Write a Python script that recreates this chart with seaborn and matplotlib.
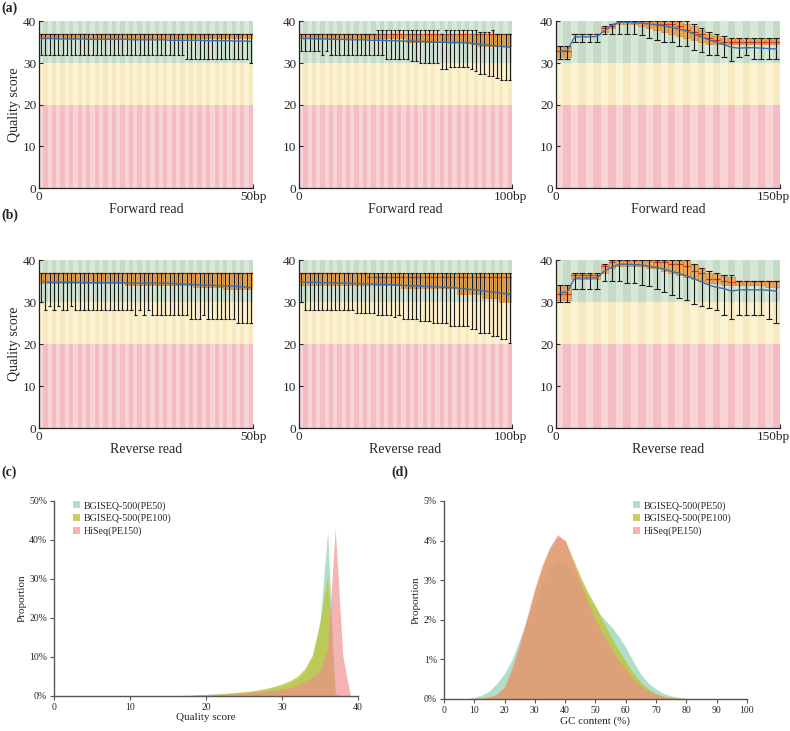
import numpy as np
import matplotlib
matplotlib.use('Agg')
import matplotlib.pyplot as plt
from matplotlib.patches import Patch
from matplotlib.transforms import ScaledTranslation
import seaborn as sns

# ---- per-position quality summaries ----
# (a) forward reads
a1_low = [32, 32, 32, 32, 32, 32, 32, 32, 32, 32,
          32, 32, 32, 32, 32, 32, 32, 32, 32, 32,
          32, 32, 32, 32, 32, 32, 32, 32, 32, 32,
          32, 32, 32, 32, 31, 31, 31, 31, 31, 31,
          31, 31, 31, 31, 31, 31, 31, 31, 31, 30]
a1_q1 = [36, 36, 36, 36, 36, 36, 36, 36, 36, 36,
         36, 36, 36, 36, 36, 36, 36, 36, 36, 36,
         36, 36, 36, 36, 36, 36, 36, 36, 36, 36,
         36, 36, 36, 36, 36, 36, 36, 36, 36, 36,
         36, 36, 36, 36, 36, 36, 36, 36, 36, 36]
a1_med = [37, 37, 37, 37, 37, 37, 37, 37, 37, 37,
          37, 37, 37, 37, 37, 37, 37, 37, 37, 37,
          37, 37, 37, 37, 37, 37, 37, 37, 37, 37,
          37, 37, 37, 37, 37, 37, 37, 37, 37, 37,
          37, 37, 37, 37, 37, 37, 37, 37, 37, 37]
a1_q3 = a1_med
a1_high = a1_med
a1_mean = [35.9, 35.9, 35.9, 35.9, 35.8, 35.8, 35.8, 35.8, 35.8, 35.8,
           35.8, 35.7, 35.7, 35.7, 35.7, 35.7, 35.7, 35.7, 35.7, 35.7,
           35.7, 35.6, 35.6, 35.6, 35.6, 35.6, 35.6, 35.6, 35.6, 35.6,
           35.5, 35.5, 35.5, 35.5, 35.5, 35.5, 35.5, 35.5, 35.4, 35.4,
           35.4, 35.4, 35.4, 35.4, 35.4, 35.3, 35.3, 35.3, 35.3, 35.2]

a2_low = [33, 33, 33, 33, 33, 32, 33, 32, 32, 32,
          32, 32, 32, 32, 32, 32, 32, 32, 32, 32,
          31, 31, 31, 31, 31, 31, 30.5, 30.5, 30, 30,
          30, 30, 30, 28.5, 28.5, 29, 29, 29, 29, 29,
          28.5, 28, 27.5, 27.5, 27, 27, 26.5, 26, 26, 26]
a2_q1 = [36, 36, 36, 36, 36, 36, 36, 36, 36, 36,
         36, 36, 36, 36, 36, 36, 36, 36, 36, 36,
         36, 36, 36, 36, 36, 35, 35, 35, 35, 35,
         35, 35, 35, 35, 35, 35, 35, 35, 35, 35,
         34.5, 34.5, 34, 34, 34, 34, 34, 34, 34, 34]
a2_med = a1_med
a2_q3 = a1_med
a2_high = [37, 37, 37, 37, 37, 37, 37, 37, 37, 37,
           37, 37, 37, 37, 37, 37, 37, 37, 38, 38,
           38, 38, 38, 38, 38, 38, 38, 38, 38, 38,
           38, 38, 38, 37, 38, 38, 38, 38, 38, 38,
           38, 38, 37.5, 37.5, 37.5, 38, 37, 37, 37, 37]
a2_mean = [35.9, 35.9, 35.9, 35.8, 35.8, 35.8, 35.8, 35.7, 35.7, 35.7,
           35.7, 35.6, 35.6, 35.6, 35.6, 35.6, 35.5, 35.5, 35.5, 35.5,
           35.4, 35.4, 35.4, 35.3, 35.3, 35.3, 35.3, 35.2, 35.2, 35.2,
           35.1, 35.1, 35.0, 35.0, 35.0, 34.9, 34.9, 34.9, 34.9, 34.8,
           34.8, 34.6, 34.5, 34.4, 34.3, 34.2, 34.1, 34.0, 33.9, 33.8]

a3_low = [31, 31, 35, 35, 35, 35, 37, 37, 37, 37,
          37, 36.8, 36, 35.5, 35, 35, 34.2, 34, 33.2, 32.6,
          32, 32, 31.4, 30.5, 31.5, 32, 31, 31, 31, 31]
a3_q1 = [31.5, 31.5, 37, 37, 37, 37, 37.5, 38.5, 39.5, 39.5,
         39.5, 39, 38.5, 38, 37.5, 37, 36.5, 36, 35.5, 35,
         34.5, 34.5, 34.5, 34.5, 34.5, 34.5, 34.5, 34.5, 34.5, 34.5]
a3_med = [33, 33, 37, 37, 37, 37, 38.5, 39, 40, 40,
          40, 40, 40, 39.5, 39.5, 39.5, 39, 38, 37.5, 37,
          36, 35.5, 35, 35, 35, 35, 35, 35, 35, 35]
a3_q3 = [34, 34, 37, 37, 37, 37, 39, 39.5, 40, 40,
         40, 40, 40, 40, 40, 40, 40, 39.5, 39, 38,
         37, 36.5, 36, 36, 36, 36, 36, 36, 36, 36]
a3_high = [34, 34, 37, 37, 37, 37, 39, 39.5, 40, 40,
           40, 40, 40, 40, 40, 40, 40, 40, 39.5, 38.5,
           37.5, 37, 36.5, 36, 36, 36, 36, 36, 36, 36]
a3_mean = [32.8, 33.0, 36.3, 36.3, 36.3, 36.4, 37.8, 39.2, 39.8, 39.8,
           39.7, 39.6, 39.4, 39.2, 38.9, 38.6, 38.2, 37.7, 37.0, 36.3,
           35.6, 35.0, 34.4, 33.8, 33.6, 33.7, 33.7, 33.6, 33.5, 33.4]

# (b) reverse reads
b1_low = [30, 28, 29, 28, 29, 28, 28, 29, 28, 28,
          28, 28, 28, 28, 28, 28, 28, 28, 28, 28,
          28, 28, 27, 28, 27, 28, 27, 27, 27, 27,
          27, 27, 27, 27, 27, 26, 26, 26, 27, 26,
          26, 26, 26, 26, 26, 26, 25, 25, 25, 25]
b1_q1 = [34.5, 34.5, 34.5, 34.5, 34.5, 34.5, 34.5, 34.5, 34.5, 34.5,
         34.5, 34.5, 34.5, 34.5, 34.5, 34.5, 34.5, 34.5, 34.5, 34.5,
         34, 34, 34, 34, 34, 34, 34, 34, 34, 34,
         34, 34, 34, 34, 34, 34, 33.5, 33.5, 33.5, 33.5,
         33.5, 33.5, 33.5, 33, 33, 33, 33, 33, 33, 33]
b1_med = a1_med
b1_q3 = a1_med
b1_high = a1_med
b1_mean = [35.0, 34.8, 34.7, 34.7, 34.7, 34.7, 34.7, 34.7, 34.7, 34.7,
           34.6, 34.6, 34.6, 34.6, 34.6, 34.6, 34.6, 34.6, 34.6, 34.6,
           34.5, 34.5, 34.5, 34.5, 34.5, 34.5, 34.5, 34.5, 34.5, 34.5,
           34.4, 34.4, 34.3, 34.3, 34.2, 34.2, 34.1, 34.1, 34.0, 34.0,
           34.0, 33.9, 33.9, 33.9, 33.8, 33.8, 33.7, 33.6, 33.5, 33.4]

b2_low = [30, 28, 28, 28, 28, 28, 28, 28, 28, 28,
          28, 28, 28, 27.5, 27.5, 27.5, 27.5, 27.5, 27, 27,
          27, 27, 26.5, 27, 26, 26, 26, 26, 25.5, 25.5,
          25.5, 25, 25, 25, 25, 24.3, 24.3, 24.3, 24.3, 24.3,
          23.5, 23.5, 22.7, 22.7, 22.7, 22, 22, 21.2, 21.2, 20.2]
b2_q1 = [34, 34, 34, 34, 34, 34, 34, 34, 34, 34,
         34, 34, 34, 34, 34, 34, 34, 34, 34, 34,
         34, 34, 34, 34, 33.3, 33.3, 33.3, 33.3, 33.3, 33.3,
         33.3, 33.3, 33.3, 33.3, 33.3, 33.3, 33.3, 32, 32, 32,
         32, 32, 32, 31, 31, 31, 31, 30, 30, 30]
b2_med = [37, 37, 37, 37, 37, 37, 37, 37, 37, 37,
          37, 37, 37, 37, 37, 37, 36, 36, 36, 36,
          36, 36, 36, 36, 36, 36, 36, 36, 36, 36,
          36, 36, 36, 36, 36, 36, 36, 36, 36, 36,
          36, 36, 36, 36, 36, 36, 36, 36, 36, 36]
b2_q3 = a1_med
b2_high = a1_med
b2_mean = [34.8, 34.7, 34.7, 34.7, 34.6, 34.6, 34.6, 34.6, 34.5, 34.5,
           34.5, 34.5, 34.4, 34.4, 34.4, 34.3, 34.3, 34.3, 34.2, 34.2,
           34.2, 34.1, 34.1, 34.0, 34.0, 33.9, 33.9, 33.8, 33.8, 33.7,
           33.7, 33.6, 33.6, 33.5, 33.5, 33.4, 33.4, 33.3, 33.2, 33.1,
           33.0, 32.9, 32.8, 32.6, 32.5, 32.4, 32.3, 32.1, 32.0, 31.8]

b3_low = [30, 30, 33, 33, 33, 33, 35, 35, 35, 34.5,
          34.5, 34, 33.8, 33, 32.5, 31.6, 31, 30.5, 29.5, 29,
          28.5, 28, 27, 26, 27, 27, 27, 27, 26, 25]
b3_q1 = [30.5, 30.5, 35.5, 35.5, 35.5, 35.5, 37, 38, 38.5, 38.5,
         38.5, 38.5, 38, 38, 37.5, 37, 36.5, 36, 35.5, 35,
         34.5, 34.5, 34, 34, 34, 34, 34, 34, 33.5, 33.5]
b3_med = [32, 32, 36.5, 36.5, 36.5, 36.5, 38.5, 39.5, 40, 40,
          40, 40, 40, 39.5, 39.5, 39, 39, 38.5, 37.5, 37,
          35.5, 35.5, 35, 34.8, 35, 35, 35, 35, 35, 35]
b3_q3 = [34, 34, 37, 37, 37, 37, 39, 40, 40, 40,
         40, 40, 40, 40, 40, 40, 40, 40, 39, 38,
         37, 37, 36.5, 36, 35, 35, 35, 35, 35, 35]
b3_high = [34, 34, 37, 37, 37, 37, 39, 40, 40, 40,
           40, 40, 40, 40, 40, 40, 40, 40, 39, 38,
           37.5, 37, 36.5, 36.5, 35, 35, 35, 35, 35, 35]
b3_mean = [32.2, 32.4, 35.7, 35.7, 35.7, 35.8, 37.4, 38.3, 39.0, 39.0,
           38.9, 38.8, 38.5, 38.2, 37.8, 37.3, 36.8, 36.2, 35.5, 34.8,
           34.0, 33.5, 33.2, 32.6, 32.9, 32.9, 32.9, 32.9, 32.8, 32.6]

# (c) quality score distribution (%), scores 0..40
qual_x = list(range(41))
qual_pe50 = [0, 0, 0, 0, 0, 0, 0, 0, 0, 0, 0, 0, 0, 0, 0,
             0.05, 0.1, 0.15, 0.2, 0.3, 0.35, 0.45, 0.55, 0.65, 0.8,
             0.95, 1.15, 1.4, 1.7, 2.1, 2.6, 3.3, 4.3, 6.2, 10,
             19, 42, 0.5, 0, 0, 0]
qual_pe100 = [0, 0, 0, 0, 0, 0, 0, 0, 0, 0, 0, 0, 0, 0, 0,
              0.05, 0.1, 0.15, 0.2, 0.3, 0.4, 0.5, 0.6, 0.75, 0.9,
              1.1, 1.3, 1.6, 2.0, 2.5, 3.1, 3.9, 5.0, 7.0, 10.5,
              19, 31, 0.3, 0, 0, 0]
qual_pe150 = [0, 0, 0, 0, 0, 0, 0, 0, 0, 0, 0, 0, 0, 0, 0,
              0, 0.05, 0.08, 0.12, 0.18, 0.25, 0.3, 0.4, 0.5, 0.6,
              0.75, 0.9, 1.05, 1.25, 1.45, 1.7, 2.2, 2.8, 3.7, 4.8,
              6.5, 12, 43, 10.3, 0, 0]

# (d) GC content distribution (%)
gc_x = [0, 5, 7.5, 10, 12.5, 15, 17.5, 20, 22.5, 25, 27.5, 30, 32.5, 35, 37.5,
        40, 42.5, 45, 47.5, 50, 52.5, 55, 57.5, 60, 62.5, 65, 67.5, 70, 72.5,
        75, 77.5, 80, 85, 90, 100]
gc_pe50 = [0, 0, 0.01, 0.04, 0.1, 0.2, 0.4, 0.65, 1.0, 1.5, 2.0, 2.5, 2.95, 3.3, 3.5,
           3.45, 3.25, 2.95, 2.6, 2.3, 2.05, 1.85, 1.6, 1.3, 0.95, 0.62, 0.4, 0.25, 0.14,
           0.08, 0.04, 0.02, 0.01, 0, 0]
gc_pe100 = [0, 0, 0, 0.01, 0.02, 0.05, 0.12, 0.3, 0.75, 1.35, 2.05, 2.75, 3.35, 3.8, 4.1,
            4.0, 3.55, 3.1, 2.7, 2.35, 1.95, 1.6, 1.25, 0.95, 0.65, 0.42, 0.25, 0.14, 0.07,
            0.04, 0.02, 0.01, 0, 0, 0]
gc_pe150 = [0, 0, 0, 0.01, 0.02, 0.05, 0.12, 0.3, 0.8, 1.4, 2.1, 2.8, 3.4, 3.85, 4.15,
            4.0, 3.5, 2.95, 2.45, 2.0, 1.65, 1.3, 1.0, 0.75, 0.5, 0.33, 0.2, 0.12, 0.06,
            0.03, 0.01, 0, 0, 0, 0]

series_labels = ['BGISEQ-500(PE50)', 'BGISEQ-500(PE100)', 'HiSeq(PE150)']
series_colors = ['#96d4b4', '#bec43c', '#f08c8c']
series_alpha = [0.75, 0.8, 0.65]

# background bands: (low, high, light colour, dark colour)
BANDS = [(0, 20, '#f9d4d7', '#f4bdc3'),
         (20, 30, '#fcf3d3', '#f8eac0'),
         (30, 40, '#d7e8d9', '#c5dbc8')]

sns.set_style('ticks')
plt.rcParams['font.family'] = ['Liberation Serif', 'DejaVu Serif']


def box_panel(ax, read_len, low, q1, med, q3, high, mean, xlabel, ylabel=None,
              end_shift=0):
    n = len(low)
    step = read_len / n
    pos = (np.arange(n) + 0.5) * step
    for lo, hi, light, dark in BANDS:
        cols = [light if i % 2 == 0 else dark for i in range(n)]
        ax.bar(pos, hi - lo, bottom=lo, width=step, color=cols, linewidth=0, zorder=0)
    q1 = np.asarray(q1, float)
    q3 = np.asarray(q3, float)
    ax.bar(pos, q3 - q1, bottom=q1, width=step * 0.92, color='#f0a03c',
           edgecolor='#c0701e', linewidth=0.4, alpha=0.85, zorder=1)
    ax.hlines(med, pos - step * 0.46, pos + step * 0.46, color='#e0301e', lw=0.9, zorder=2)
    ax.vlines(pos, low, high, color='#1a1a1a', lw=0.8, zorder=3)
    ax.hlines(low, pos - step * 0.38, pos + step * 0.38, color='#1a1a1a', lw=0.8, zorder=3)
    ax.hlines(high, pos - step * 0.38, pos + step * 0.38, color='#1a1a1a', lw=0.8, zorder=3)
    sns.lineplot(x=pos, y=mean, ax=ax, color='#3a6db2', lw=1.0, zorder=4)

    ax.set_xlim(0, read_len)
    ax.set_ylim(0, 40)
    ax.set_yticks([0, 10, 20, 30, 40])
    ax.set_xticks([0, read_len])
    ax.set_xticklabels(['0', f'{read_len}bp'])
    ax.tick_params(direction='in', length=3, width=0.8, labelsize=9.5, pad=2)
    if end_shift:
        lab = ax.get_xticklabels()[-1]
        lab.set_transform(lab.get_transform() +
                          ScaledTranslation(end_shift / 72, 0, fig.dpi_scale_trans))
    sns.despine(ax=ax)
    for s in ('left', 'bottom'):
        ax.spines[s].set_linewidth(0.9)
        ax.spines[s].set_color('#222222')
    ax.set_xlabel(xlabel, fontsize=10, labelpad=0)
    if ylabel:
        ax.set_ylabel(ylabel, fontsize=10, labelpad=1)


def dist_panel(ax, x, ys, xmax, ymax, ystep, xstep, xlabel, legend_x):
    for y, c, a in zip(ys, series_colors, series_alpha):
        ax.fill_between(x, 0, y, color=c, alpha=a, linewidth=0)
    ax.set_xlim(0, xmax)
    ax.set_ylim(0, ymax)
    yt = np.arange(0, ymax + ystep / 2, ystep)
    ax.set_yticks(yt)
    ax.set_yticklabels([f'{v:g}%' for v in yt])
    ax.set_xticks(np.arange(0, xmax + 1, xstep))
    ax.tick_params(direction='out', length=3, width=0.8, labelsize=7, pad=2,
                   color='#555555')
    sns.despine(ax=ax)
    for s in ('left', 'bottom'):
        ax.spines[s].set_linewidth(1.0)
        ax.spines[s].set_color('#555555')
    ax.set_xlabel(xlabel, fontsize=8, labelpad=1)
    ax.set_ylabel('Proportion', fontsize=8, labelpad=2)
    handles = [Patch(facecolor=c, alpha=a, edgecolor='none')
               for c, a in zip(series_colors, series_alpha)]
    ax.legend(handles, series_labels, loc='upper left', bbox_to_anchor=(legend_x, 1.02),
              frameon=False, fontsize=7.2, handlelength=0.7, handleheight=0.7,
              handletextpad=0.35, labelspacing=0.3, borderaxespad=0)


fig = plt.figure(figsize=(7.9, 7.31), dpi=100)

col_x = [(0.0494, 0.2709), (0.3785, 0.2696), (0.7038, 0.2835)]
col_shift = [0, -1, -5]
rows = [(0.7428, 0.2278, 'Forward read'), (0.4145, 0.2298, 'Reverse read')]
panels = [
    [(50, a1_low, a1_q1, a1_med, a1_q3, a1_high, a1_mean),
     (100, a2_low, a2_q1, a2_med, a2_q3, a2_high, a2_mean),
     (150, a3_low, a3_q1, a3_med, a3_q3, a3_high, a3_mean)],
    [(50, b1_low, b1_q1, b1_med, b1_q3, b1_high, b1_mean),
     (100, b2_low, b2_q1, b2_med, b2_q3, b2_high, b2_mean),
     (150, b3_low, b3_q1, b3_med, b3_q3, b3_high, b3_mean)],
]
for (bottom, height, xlab), row in zip(rows, panels):
    for j, ((left, width), p) in enumerate(zip(col_x, row)):
        ax = fig.add_axes([left, bottom, width, height])
        box_panel(ax, *p, xlabel=xlab, ylabel='Quality score' if j == 0 else None,
                  end_shift=col_shift[j])

ax_c = fig.add_axes([0.0684, 0.0479, 0.3848, 0.2668])
dist_panel(ax_c, qual_x, [qual_pe50, qual_pe100, qual_pe150], 40, 50, 10, 10,
           'Quality score', 0.05)
ax_d = fig.add_axes([0.562, 0.0438, 0.3835, 0.2709])
dist_panel(ax_d, gc_x, [gc_pe50, gc_pe100, gc_pe150], 100, 5, 1, 10,
           'GC content (%)', 0.61)

for txt, x, y in [('(a)', 0.002, 8), ('(b)', 0.002, 215), ('(c)', 0.002, 472),
                  ('(d)', 0.496, 472)]:
    fig.text(x, 1 - y / 731, txt, fontsize=10, fontweight='bold', va='center')

fig.savefig('out.png', dpi=100)
